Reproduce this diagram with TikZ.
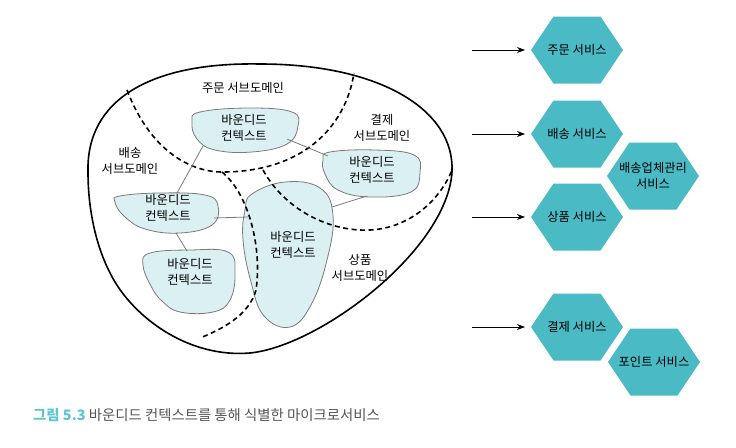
\documentclass[tikz,border=0pt]{standalone}
\usepackage{fontspec}
\setmainfont{Noto Sans CJK KR}
\usepackage{tikz}
\usetikzlibrary{arrows.meta,positioning,calc}
\definecolor{hexfill}{HTML}{4ABAC5}
\definecolor{ctxfill}{HTML}{DBF0F3}
\definecolor{ctxline}{HTML}{7A7A7A}
\definecolor{capcyan}{HTML}{5CC6D0}
\definecolor{capgray}{HTML}{555555}

\begin{document}
\begin{tikzpicture}[x=1pt,y=-1pt,
  lbl/.style={font=\fontsize{12.3}{16.5}\selectfont,align=center,inner sep=0pt},
  ctx/.style={fill=ctxfill,draw=ctxline,line width=0.8pt},
  link/.style={draw=ctxline,line width=0.8pt},
  border/.style={line width=1.6pt,dash pattern=on 5pt off 3.5pt}]
  \useasboundingbox (0,0) rectangle (736,447);
  % outer domain
  \draw[line width=1.6pt] (88,172) .. controls (86,100) and (150,62) .. (260,64)
    .. controls (380,64) and (455,110) .. (452,172) .. controls (447,250) and (320,346) .. (250,353)
    .. controls (190,358) and (138,320) .. (115,282) .. controls (97,252) and (88,212) .. (88,172);
  % bounded contexts
  \draw[ctx] plot[smooth cycle,tension=0.7] coordinates {(200,112) (250,108) (292,112) (298,126) (287,144) (252,152) (215,150) (197,139) (192,122)};
  \draw[ctx] plot[smooth cycle,tension=0.7] coordinates {(330,152) (375,150) (414,155) (420,172) (411,192) (370,197) (338,190) (325,174) (323,160)};
  \draw[ctx] plot[smooth cycle,tension=0.7] coordinates {(120,196) (160,193) (205,195) (218,206) (212,225) (180,233) (145,229) (124,216) (115,202)};
  \draw[ctx] plot[smooth cycle,tension=0.7] coordinates {(150,253) (190,250) (228,252) (235,272) (230,300) (213,312) (180,312) (162,301) (151,286) (143,265)};
  \draw[ctx] plot[smooth cycle,tension=0.7] coordinates {(252,194) (285,182) (320,188) (333,215) (327,260) (311,305) (290,327) (264,316) (251,282) (243,240) (245,210)};
  % subdomain borders
  \draw[border] (127,90) .. controls (150,150) and (190,173) .. (225,172) .. controls (300,171) and (345,130) .. (354,73);
  \draw[border] (222,172) .. controls (250,195) and (262,250) .. (256,290) .. controls (249,316) and (220,330) .. (200,338);
  \draw[border] (263,170) .. controls (285,210) and (330,232) .. (370,230) .. controls (410,228) and (440,200) .. (452,170);
  % link ends
  \coordinate (a1) at (203,146);
  \coordinate (c1) at (177,193);
  \coordinate (a2) at (287,139);
  \coordinate (b1) at (328,156);
  \coordinate (b2) at (367,196);
  \coordinate (e1) at (332,207);
  \coordinate (c2) at (214,218);
  \coordinate (e2) at (248,217);
  \coordinate (c3) at (176,233);
  \coordinate (d1) at (187,251);
  \draw[link] (a1) -- (c1);
  \draw[link] (a2) -- (b1);
  \draw[link] (b2) -- (e1);
  \draw[link] (c2) -- (e2);
  \draw[link] (c3) -- (d1);
  % labels
  \node[lbl] (ctxA) at (244,128) {바운디드\\컨텍스트};
  \node[lbl] (ctxB) at (372,170) {바운디드\\컨텍스트};
  \node[lbl] (ctxC) at (168,208) {바운디드\\컨텍스트};
  \node[lbl] (ctxD) at (190,272) {바운디드\\컨텍스트};
  \node[lbl] (ctxE) at (293,245) {바운디드\\컨텍스트};
  \node[lbl] (subOrder) at (243,88) {주문 서브도메인};
  \node[lbl] (subPay) at (382,128) {결제\\서브도메인};
  \node[lbl] (subShip) at (130,161) {배송\\서브도메인};
  \node[lbl] (subProd) at (360,268) {상품\\서브도메인};
  % services
  \foreach \n/\x/\y/\t in {order/577/50/{주문 서비스}, ship/577/134/{배송 서비스},
      prod/577/217/{상품 서비스}, pay/577/327/{결제 서비스},
      carrier/653/176/{배송업체관리\\서비스}, point/654/362/{포인트 서비스}} {
    \fill[hexfill] (\x,\y) +(-46,0) -- +(-23.5,-33.5) -- +(23.5,-33.5) -- +(46,0)
      -- +(23.5,33.5) -- +(-23.5,33.5) -- cycle;
    \node[lbl] (\n) at (\x,\y) {\t};
  }
  \foreach \s in {order,ship,prod,pay} {
    \coordinate (in\s) at ($(\s)+(-105,0)$);
    \coordinate (tip\s) at ($(\s)+(-52,0)$);
    \draw[line width=1pt,-{Stealth[length=8pt,width=6pt]}] (in\s) -- (tip\s);
  }
  % caption
  \node[anchor=west,inner sep=0pt,font=\fontsize{14.4}{16}\selectfont] (cap) at (33,415)
    {\textcolor{capcyan}{\bfseries 그림 5.3} \textcolor{capgray}{바운디드 컨텍스트를 통해 식별한 마이크로서비스}};
\end{tikzpicture}
\end{document}
